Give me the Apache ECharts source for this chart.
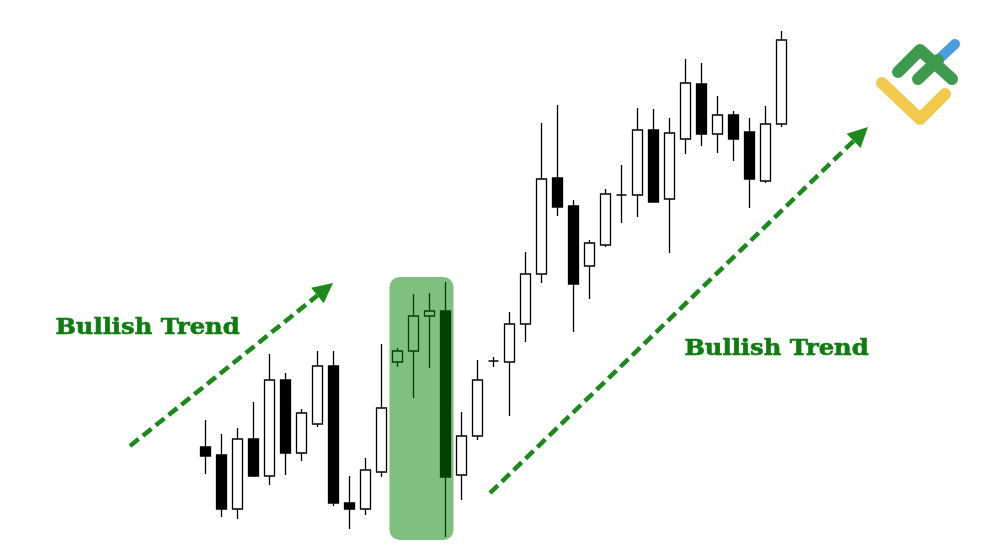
<!DOCTYPE html>
<html>
<head>
<meta charset="utf-8">
<script src="https://cdn.jsdelivr.net/npm/echarts@6/dist/echarts.min.js"></script>
<style>
html,body{margin:0;padding:0;background:#fff;}
#chart{width:1000px;height:545px;}
</style>
</head>
<body>
<div id="chart"></div>
<script>
// Candle index labels (no visible axis in the reference)
const categories = Array.from({length: 37}, (_, i) => 'C' + (i + 1));
// Each row: open, close, low, high (arbitrary price units)
const opens  = [103, 95, 41,111, 74,170, 97,126,184, 47, 41, 78,188,199,234,239, 75,114,189,188,226,276,372,344,284,305,355,355,420,351,411,466,416,435,418,369,426];
const closes = [ 94, 41,111, 74,170, 97,137,184, 47, 41, 80,142,199,234,239, 73,114,170,189,226,276,371,343,266,307,356,355,420,348,417,467,416,435,411,371,426,510];
const lows   = [ 76, 33, 31, 73, 65, 75, 89,123, 44, 21, 35, 73,183,152,182, 13, 50,110,183,134,208,267,334,218,251,303,327,333,348,297,396,404,397,389,342,367,423];
const highs  = [130,116,122,148,196,177,141,199,199, 74, 92,206,202,256,257,268,138,190,193,238,298,427,445,350,310,361,385,442,441,432,491,487,454,439,432,444,519];
// Highlighted candles (indices) and annotation text
const highlightStart = 12, highlightEnd = 15;
const trendLabel = 'Bullish Trend';

const candleData = opens.map((o, i) => [o, closes[i], lows[i], highs[i]]);

const chart = echarts.init(document.getElementById('chart'));
chart.setOption({
  animation: false,
  backgroundColor: '#ffffff',
  grid: {left: 197.5, width: 592, top: 0, height: 545},
  xAxis: {
    type: 'category', data: categories, boundaryGap: true,
    axisLine: {show: false}, axisTick: {show: false}, axisLabel: {show: false}, splitLine: {show: false}
  },
  yAxis: {
    type: 'value', min: 5, max: 550,
    axisLine: {show: false}, axisTick: {show: false}, axisLabel: {show: false}, splitLine: {show: false}
  },
  series: [{
    type: 'candlestick',
    data: candleData,
    barWidth: 11,
    itemStyle: {
      color: '#ffffff', color0: '#000000',
      borderColor: '#000000', borderColor0: '#000000', borderWidth: 1.3
    }
  }]
});

// Annotations
const hi = Math.max(...highs.slice(highlightStart, highlightEnd + 1));
const lo = Math.min(...lows.slice(highlightStart, highlightEnd + 1));
const p0 = chart.convertToPixel({seriesIndex: 0}, [highlightStart, hi]);
const p1 = chart.convertToPixel({seriesIndex: 0}, [highlightEnd, lo]);
const band = 16;
const green = '#1b8a1b';

function arrow(x1, y1, x2, y2) {
  const ang = Math.atan2(y2 - y1, x2 - x1);
  const L = 20, W = 10;
  const bx = x2 - L * Math.cos(ang), by = y2 - L * Math.sin(ang);
  const nx = -Math.sin(ang), ny = Math.cos(ang);
  return [
    {type: 'line', shape: {x1: x1, y1: y1, x2: bx, y2: by},
     style: {stroke: green, lineWidth: 4.5, lineDash: [11, 5.5]}, z: 10},
    {type: 'polygon', shape: {points: [[x2, y2], [bx + nx * W, by + ny * W], [bx - nx * W, by - ny * W]]},
     style: {fill: green}, z: 10}
  ];
}

function label(cx, cy) {
  return {type: 'text', x: cx, y: cy, scaleX: 1.1,
    style: {text: trendLabel, fill: '#0e7c0e', stroke: '#0e7c0e', lineWidth: 0.6,
            font: 'bold 22px "DejaVu Serif"', align: 'center', verticalAlign: 'middle'}, z: 10};
}

const logoW = 12;
chart.setOption({
  graphic: [
    {type: 'rect', shape: {x: p0[0] - band / 2, y: p0[1] - 5, width: (p1[0] - p0[0]) + band, height: (p1[1] - p0[1]) + 8, r: 10},
     style: {fill: 'rgba(0,128,0,0.5)'}, z: 100},
    ...arrow(130, 446, 333, 283),
    ...arrow(490, 493, 868, 127),
    label(147.5, 328),
    label(776.5, 349),
    {type: 'polyline', shape: {points: [[882, 83], [920, 119], [945, 94]]}, style: {stroke: '#f2c94c', lineWidth: logoW, lineCap: 'round', lineJoin: 'round', fill: null}, z: 10},
    {type: 'line', shape: {x1: 938, y1: 60, x2: 955, y2: 44}, style: {stroke: '#4a9de0', lineWidth: logoW - 2, lineCap: 'round'}, z: 10},
    {type: 'polyline', shape: {points: [[898, 72], [920, 50], [952, 79]]}, style: {stroke: '#3e9a4c', lineWidth: logoW, lineCap: 'round', lineJoin: 'round', fill: null}, z: 11},
    {type: 'line', shape: {x1: 918, y1: 79, x2: 938, y2: 60}, style: {stroke: '#3e9a4c', lineWidth: logoW, lineCap: 'round'}, z: 11}
  ]
});
</script>
</body>
</html>
